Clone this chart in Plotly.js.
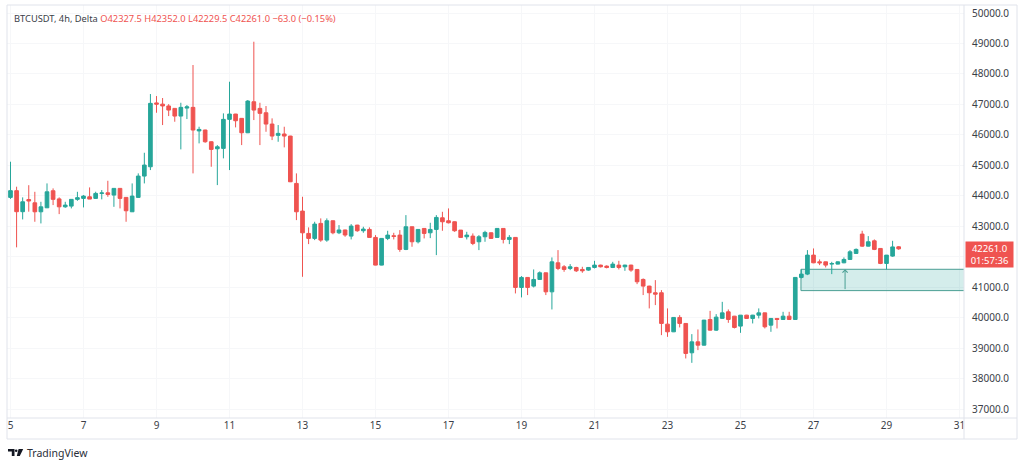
<!DOCTYPE html>
<html>
<head>
<meta charset="utf-8">
<script src="https://cdn.plot.ly/plotly-3.0.1.min.js"></script>
<style>
  html, body { margin: 0; padding: 0; background: #ffffff; }
  #chart { width: 1024px; height: 467px; }
</style>
</head>
<body>
<div id="chart"></div>
<script>
// ---------------- DATA ----------------
const symbolTitle = 'BTCUSDT, 4h, Delta';
const firstBar = '2024-01-05T00:00:00Z';   // 4h bars
const barHours = 4;
const countdown = '01:57:36';
const brandName = 'TradingView';

const openVals = [
  43950,44170,43480,43880,43772,43477,43608,44167,43900,43640,
  43663,43885,43917,43970,43917,44080,44100,44025,44245,43950,
  43477,43950,44649,44955,47050,47010,46950,46870,46618,46880,
  46904,46130,46160,45775,45545,45558,46510,46684,46543,46070,
  47088,46870,46727,46356,45985,46030,45962,44408,43500,42767,
  42603,43096,42548,43183,42788,42880,42679,43040,42855,42898,
  42636,41727,42603,42690,42712,42242,42986,42493,42931,42788,
  42898,43280,43183,43150,42876,42657,42679,42493,42657,42788,
  42636,42931,42570,42636,40994,41323,41038,41257,41475,40850,
  41803,41672,41618,41650,41585,41563,41650,41727,41694,41650,
  41727,41672,41727,41585,41257,41038,40820,40820,39790,39538,
  40010,39813,38850,39209,39100,39943,39593,39980,40195,40052,
  39725,40085,39977,40085,40160,39757,39977,39943,40052,39943,
  41323,41432,42055,41835,41835,41760,41760,41803,41913,42110,
  42745,42350,42525,42274,41782,42023,42327.5
];
const highVals = [
  45120,44300,43950,44350,44133,43805,44408,44245,43950,43805,
  43885,44133,44025,44277,44135,44190,44495,44245,44250,43960,
  44408,44737,45414,47341,47275,47210,47010,46880,47055,46980,
  48293,46268,46170,45790,45666,46707,47745,46690,46550,47144,
  49058,47055,46947,46543,46323,46268,45970,44737,43970,42965,
  43150,43260,43260,43190,43040,42890,43073,43050,42985,42965,
  42712,42610,42854,42788,42876,43368,42990,42905,42940,43116,
  43368,43477,43588,43160,42880,42820,42767,42712,42854,42800,
  42940,42940,42712,42640,41366,41330,41585,41520,41480,41980,
  42219,41727,41760,41672,41672,41660,41868,41740,41720,41835,
  41868,41740,41740,41600,41290,41050,41235,40907,40306,40020,
  40085,39820,39462,39616,39930,40226,40118,40522,40272,40060,
  40090,40095,40095,40306,40165,39990,39990,40195,40195,41330,
  41585,42219,42274,41913,41840,41835,41850,41980,42219,42274,
  42854,42679,42570,42280,42060,42525,42352
];
const lowVals = [
  43900,42310,43227,43480,43150,43095,43600,43697,43401,43608,
  43588,43838,43620,43894,43900,43885,43970,43640,43588,43150,
  43470,43940,44408,44846,46727,46323,46618,46432,45525,46520,
  44737,45722,45742,44955,44353,45230,44846,46247,45666,46060,
  46487,45666,46103,45830,45775,45591,44452,43204,41344,42416,
  42548,42493,42493,42740,42745,42657,42570,42820,42788,42630,
  41720,41720,42548,42570,42164,42219,42329,42439,42603,42613,
  42055,42854,43096,42820,42630,42570,42383,42219,42493,42590,
  42630,42439,42416,40798,40667,40744,40994,41250,40744,40272,
  41563,41508,41563,41500,41476,41540,41618,41650,41620,41630,
  41585,41540,41508,41103,40744,40306,40415,39429,39373,39530,
  39682,38664,38520,38937,39090,39580,39570,39970,39834,39649,
  39505,39970,39813,39977,39649,39538,39649,39930,39930,39940,
  41290,41399,41790,41727,41650,41432,41750,41790,41900,42100,
  42329,42340,42219,41760,41585,42000,42229.5
];
const closeVals = [
  44170,43480,43805,43830,43477,43640,44133,43885,43640,43697,
  43885,43940,43992,43894,44080,44095,44048,44245,43917,43510,
  43992,44649,45010,47035,47010,46950,46815,46618,46904,46920,
  46160,46180,45775,45525,45610,46510,46684,46465,46070,47111,
  46815,46707,46356,45962,46050,45962,44462,43477,42787,42603,
  43073,42548,43183,42788,42880,42715,43008,42855,42910,42636,
  41727,42603,42712,42670,42242,42986,42493,42898,42767,42898,
  43292,43150,43116,42854,42636,42712,42439,42657,42800,42603,
  42931,42570,42636,40994,41323,40994,41257,41475,40850,41835,
  41618,41585,41672,41540,41540,41650,41727,41672,41650,41760,
  41650,41727,41563,41180,41038,40820,40775,39813,39538,40010,
  39813,38828,39209,39100,39922,39593,40020,40160,39943,39681,
  40085,39977,40085,40160,39703,39977,39943,40052,39943,41323,
  41432,42055,41803,41803,41727,41780,41835,41913,42164,42242,
  42350,42493,42242,41782,42055,42324,42261
];

// x-axis tick labels (days of January 2024)
const tickDayLabels = ['5','7','9','11','13','15','17','19','21','23','25','27','29','31'];
// price axis ticks and their labels (42000.0 is covered by the last-price tag)
const priceTicks = [37000,38000,39000,40000,41000,42000,43000,44000,45000,46000,47000,48000,49000,50000];
const priceTickLabels = ['37000.0','38000.0','39000.0','40000.0','41000.0','','43000.0','44000.0','45000.0','46000.0','47000.0','48000.0','49000.0','50000.0'];

// demand zone drawn on chart
const zoneStart = '2024-01-26 15:45';
const zoneEnd = '2024-02-02 00:00';
const zoneLow = 40890;
const zoneHigh = 41590;
const arrowTime = '2024-01-27 20:45';

// ---------------- BUILD ----------------
const times = [];
const t0 = Date.parse(firstBar);
for (let i = 0; i < openVals.length; i++) {
  const d = new Date(t0 + i * barHours * 3600e3);
  times.push(d.toISOString().slice(0, 16).replace('T', ' '));
}
const tickVals = tickDayLabels.map(d => '2024-01-' + (d.length < 2 ? '0' + d : d));

const n = closeVals.length;
const lastO = openVals[n - 1], lastH = highVals[n - 1], lastL = lowVals[n - 1], lastC = closeVals[n - 1];
const chg = lastC - closeVals[n - 2];
const pct = chg / closeVals[n - 2] * 100;
const fmtSigned = v => (v < 0 ? '\u2212' : '+') + Math.abs(v).toFixed(1);
const fmtPct = v => (v < 0 ? '\u2212' : '+') + Math.abs(v).toFixed(2) + '%';
const headerVals = 'O' + lastO.toFixed(1) + ' H' + lastH.toFixed(1) + ' L' + lastL.toFixed(1) +
  ' C' + lastC.toFixed(1) + ' ' + fmtSigned(chg) + ' (' + fmtPct(pct) + ')';

const UP = '#26a69a', DOWN = '#ef5350', BORDER = '#e0e3eb', GRID = '#f6f7f9';

// pixel helpers for frame decoration (plot area: x 7..964, y 5..418)
const PL = 7, PR = 964, PT = 5, PB = 418;
const px = x => (x - PL) / (PR - PL);
const py = y => (PB - y) / (PB - PT);

function poly(pts) {
  return 'M' + pts.map(p => px(p[0]).toFixed(5) + ',' + py(p[1]).toFixed(5)).join('L') + 'Z';
}

const trace = {
  type: 'candlestick',
  x: times,
  open: openVals, high: highVals, low: lowVals, close: closeVals,
  increasing: { line: { color: UP, width: 1 }, fillcolor: UP },
  decreasing: { line: { color: DOWN, width: 1 }, fillcolor: DOWN },
  whiskerwidth: 0,
  hoverinfo: 'skip',
  showlegend: false
};

const font = 'Noto Sans, Open Sans, Arial, sans-serif';

const layout = {
  width: 1024, height: 467,
  margin: { l: PL, r: 1024 - PR, t: PT, b: 467 - PB },
  paper_bgcolor: '#ffffff',
  plot_bgcolor: '#ffffff',
  showlegend: false,
  hovermode: false,
  boxgap: 0.25, boxgroupgap: 0.2,
  font: { family: font, size: 10, color: '#131722' },
  xaxis: {
    type: 'date',
    range: ['2024-01-04 21:42', '2024-01-31 02:57'],
    tickvals: tickVals,
    ticktext: tickDayLabels,
    showgrid: true, gridcolor: GRID, gridwidth: 1,
    zeroline: false, showline: false,
    ticks: '',
    tickfont: { size: 10, color: '#3b3e48', family: font },
    rangeslider: { visible: false },
    fixedrange: true
  },
  yaxis: {
    side: 'right',
    range: [36710, 50263],
    tickvals: priceTicks,
    ticktext: priceTickLabels,
    showgrid: true, gridcolor: GRID, gridwidth: 1,
    zeroline: false, showline: false,
    ticks: '',
    ticklabelstandoff: 7,
    tickfont: { size: 10, color: '#3b3e48', family: font },
    fixedrange: true
  },
  shapes: [
    // demand zone (between gridlines and candles)
    { type: 'rect', xref: 'x', yref: 'y', x0: zoneStart, x1: zoneEnd, y0: zoneLow, y1: zoneHigh,
      fillcolor: 'rgba(38,166,154,0.2)', line: { color: '#4a9f94', width: 1 }, layer: 'between' },
    // widget frame
    { type: 'rect', xref: 'paper', yref: 'paper', x0: px(7), x1: px(1017), y0: py(439), y1: py(5),
      line: { color: BORDER, width: 1 } },
    { type: 'line', xref: 'paper', yref: 'paper', x0: px(964), x1: px(964), y0: py(439), y1: py(5),
      line: { color: BORDER, width: 1 } },
    { type: 'line', xref: 'paper', yref: 'paper', x0: px(7), x1: px(1017), y0: py(418), y1: py(418),
      line: { color: BORDER, width: 1 } },
    // TradingView logo glyph
    { type: 'path', xref: 'paper', yref: 'paper', fillcolor: '#131722', line: { width: 0 },
      path: poly([[8,449],[14.5,449],[14.5,456],[11.8,456],[11.8,451.6],[8,451.6]]) },
    { type: 'circle', xref: 'paper', yref: 'paper', fillcolor: '#131722', line: { width: 0 },
      x0: px(14.9), x1: px(17.5), y0: py(452), y1: py(449.4) },
    { type: 'path', xref: 'paper', yref: 'paper', fillcolor: '#131722', line: { width: 0 },
      path: poly([[18.6,449],[23.2,449],[19.8,456],[16.8,456]]) }
  ],
  annotations: [
    { xref: 'paper', yref: 'paper', x: px(12), y: py(18), xanchor: 'left', yanchor: 'middle',
      showarrow: false, font: { size: 9.3, color: '#3b3e48', family: font },
      text: symbolTitle + ' <span style="color:#ef5350">' + headerVals + '</span>' },
    { xref: 'paper', yref: 'y', x: 1, y: lastC, xanchor: 'left', yanchor: 'middle', xshift: 1, yshift: -6,
      showarrow: false, bgcolor: DOWN, borderpad: 2, width: 43, height: 21, align: 'center',
      font: { size: 9.5, color: '#ffffff', family: font },
      text: lastC.toFixed(1) + '<br>' + countdown },
    { xref: 'paper', yref: 'paper', x: px(25), y: py(452.5), xanchor: 'left', yanchor: 'middle',
      showarrow: false, font: { size: 10.5, color: '#2a2e39', family: font }, text: brandName },
    { xref: 'x', yref: 'y', axref: 'x', ayref: 'y', x: arrowTime, y: zoneHigh, ax: arrowTime, ay: zoneLow,
      showarrow: true, arrowhead: 4, arrowsize: 1, arrowwidth: 1, arrowcolor: '#4a9f94', text: '' }
  ]
};

Plotly.newPlot('chart', [trace], layout, { staticPlot: true, displayModeBar: false });
</script>
</body>
</html>
